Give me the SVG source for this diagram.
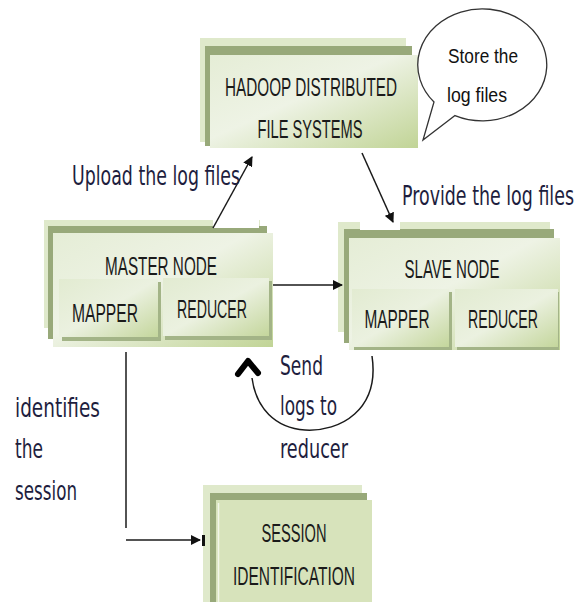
<svg xmlns="http://www.w3.org/2000/svg" width="580" height="602" viewBox="0 0 580 602">
<defs>
<linearGradient id="gf" x1="0" y1="0" x2="1" y2="1">
<stop offset="0" stop-color="#e5edd6"/>
<stop offset="0.45" stop-color="#eef3e5"/>
<stop offset="1" stop-color="#c1d496"/>
</linearGradient>
<linearGradient id="gi" x1="0" y1="0" x2="1" y2="1">
<stop offset="0" stop-color="#e2ebd1"/>
<stop offset="0.5" stop-color="#ebf1e0"/>
<stop offset="1" stop-color="#c4d69c"/>
</linearGradient>
<marker id="ah" viewBox="0 0 10 10" refX="9" refY="5" markerWidth="10" markerHeight="10" orient="auto" markerUnits="userSpaceOnUse">
<path d="M0,0 L10,5 L0,10 z" fill="#111"/>
</marker>
</defs>
<style>
.back{fill:#dfe9cb}
.mid{fill:#98a97a}
.front{fill:url(#gf)}
.inner{fill:url(#gi)}
.sh{fill:#a3b487}
.bt{font-family:"Liberation Sans",Arial,sans-serif;font-size:25px;fill:#1a1a1a;text-anchor:middle}
.ct{font-family:"Liberation Sans",Arial,sans-serif;font-size:21px;fill:#111}
.lbl{font-family:"DejaVu Sans",Verdana,sans-serif;font-size:27px;fill:#1e1e3e}
.conn{stroke:#1a1a1a;stroke-width:1.5;fill:none}
</style>

<g id="hdfs">
<rect class="back" x="200" y="38" width="206" height="104"/>
<rect class="mid" x="205" y="46" width="207" height="100"/>
<rect class="front" x="210" y="55" width="208" height="93"/>
<text class="bt" x="311" y="96" textLength="172" lengthAdjust="spacingAndGlyphs">HADOOP DISTRIBUTED</text>
<text class="bt" x="310" y="138" textLength="105" lengthAdjust="spacingAndGlyphs">FILE SYSTEMS</text>
</g>

<g id="bubble">
<path d="M434,102 A64.5,56 0 1 1 455,115.6 L423,140 Z" fill="#fff" stroke="#333" stroke-width="1.3"/>
<text class="ct" x="448" y="63" textLength="70" lengthAdjust="spacingAndGlyphs">Store the</text>
<text class="ct" x="447" y="102" textLength="60" lengthAdjust="spacingAndGlyphs">log files</text>
</g>

<g id="master">
<rect class="back" x="44" y="220" width="216" height="108"/>
<rect class="mid" x="48" y="226" width="219" height="113"/>
<rect class="front" x="53" y="233" width="220" height="114"/>
<rect fill="#fff" x="213" y="219" width="46" height="9"/>
<text class="bt" x="161" y="275" textLength="112" lengthAdjust="spacingAndGlyphs">MASTER NODE</text>
<g id="master-mapper">
<rect class="sh" x="62" y="282" width="99" height="59"/>
<rect class="inner" x="59" y="279" width="99" height="58"/>
<text class="bt" x="105" y="322" textLength="66" lengthAdjust="spacingAndGlyphs">MAPPER</text>
</g>
<g id="master-reducer">
<rect class="sh" x="165" y="281" width="107" height="59"/>
<rect class="inner" x="163" y="278" width="106" height="58"/>
<text class="bt" x="212" y="318" textLength="70" lengthAdjust="spacingAndGlyphs">REDUCER</text>
</g>
</g>

<g id="slave">
<rect class="back" x="338" y="222" width="212" height="110"/>
<rect class="mid" x="344" y="229" width="210" height="114"/>
<rect class="front" x="349" y="238" width="211" height="112"/>
<rect fill="#fff" x="360" y="221" width="40" height="9"/>
<text class="bt" x="452" y="278" textLength="95" lengthAdjust="spacingAndGlyphs">SLAVE NODE</text>
<g id="slave-mapper">
<rect class="sh" x="354" y="292" width="98" height="58"/>
<rect class="inner" x="352" y="289" width="97" height="58"/>
<text class="bt" x="397" y="328" textLength="65" lengthAdjust="spacingAndGlyphs">MAPPER</text>
</g>
<g id="slave-reducer">
<rect class="sh" x="457" y="292" width="102" height="58"/>
<rect class="inner" x="455" y="289" width="103" height="58"/>
<text class="bt" x="503" y="328" textLength="70" lengthAdjust="spacingAndGlyphs">REDUCER</text>
</g>
</g>

<g id="session">
<rect class="back" x="203" y="485" width="159" height="117"/>
<rect class="mid" x="210" y="493" width="157" height="110"/>
<rect fill="#d7e3bb" x="216" y="500" width="156" height="102"/>
<line x1="218.5" y1="503" x2="218.5" y2="602" stroke="#f2f6ea" stroke-width="1.5"/>
<text class="bt" x="294" y="542" textLength="65" lengthAdjust="spacingAndGlyphs">SESSION</text>
<text class="bt" x="294" y="585" textLength="122" lengthAdjust="spacingAndGlyphs">IDENTIFICATION</text>
</g>

<g id="connectors">
<line class="conn" x1="213" y1="228" x2="252" y2="157" marker-end="url(#ah)"/>
<line class="conn" x1="362" y1="153" x2="393" y2="222" marker-end="url(#ah)"/>
<line class="conn" x1="273" y1="285" x2="342" y2="285" marker-end="url(#ah)"/>
<line class="conn" x1="126" y1="352" x2="126" y2="528"/>
<line class="conn" x1="126" y1="540" x2="200" y2="540" marker-end="url(#ah)"/>
<rect x="202" y="535" width="3" height="11" fill="#111"/>
<path class="conn" d="M372,356 C380,410 340,432 305,430 C275,428 256,408 252,378" stroke="#444"/>
<polyline points="238,374 248,361 258,373" fill="none" stroke="#000" stroke-width="6" stroke-linecap="round" stroke-linejoin="round"/>
</g>

<g id="labels">
<text class="lbl" x="72" y="185" textLength="168" lengthAdjust="spacingAndGlyphs">Upload the log files</text>
<text class="lbl" x="402" y="205" textLength="172" lengthAdjust="spacingAndGlyphs">Provide the log files</text>
<text class="lbl" x="280" y="375" textLength="43" lengthAdjust="spacingAndGlyphs">Send</text>
<text class="lbl" x="280" y="415" textLength="57" lengthAdjust="spacingAndGlyphs">logs to</text>
<text class="lbl" x="280" y="458" textLength="68" lengthAdjust="spacingAndGlyphs">reducer</text>
<text class="lbl" x="15" y="417" textLength="85" lengthAdjust="spacingAndGlyphs">identifies</text>
<text class="lbl" x="15" y="458" textLength="28" lengthAdjust="spacingAndGlyphs">the</text>
<text class="lbl" x="15" y="500" textLength="62" lengthAdjust="spacingAndGlyphs">session</text>
</g>
</svg>
